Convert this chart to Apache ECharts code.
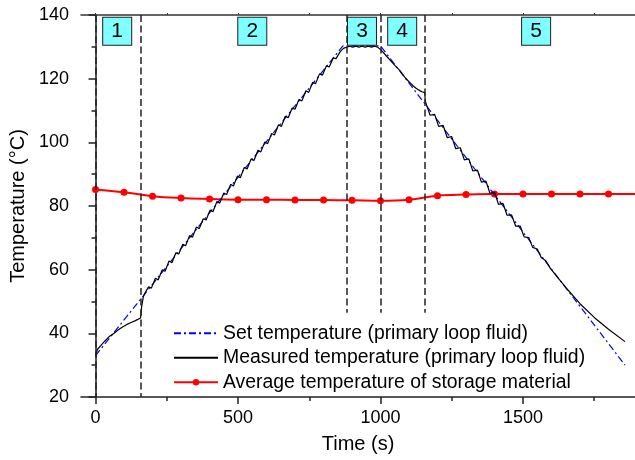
<!DOCTYPE html>
<html><head><meta charset="utf-8">
<script src="https://cdn.jsdelivr.net/npm/echarts@6/dist/echarts.min.js"></script>
<style>html,body{margin:0;padding:0;background:#fff}#c{width:635px;height:460px}</style>
</head><body><div id="c"></div>
<script>
const xMajorTicks = [0, 500, 1000, 1500];
const xMinorTicks = [250, 750, 1250, 1750];
const xTopTicks = [0, 250, 500, 750, 1000, 1250, 1500, 1750];
const seriesNames = ['Set temperature (primary loop fluid)', 'Measured temperature (primary loop fluid)', 'Average temperature of storage material'];
const setTemp = [[0, 33], [868, 130.3], [1000, 130.3], [1858, 30]];
const measuredTemp = [
  [0,32.9],[7,35.0],[12,34.5],[20,36.3],[25,35.9],[33,37.6],[38,37.3],[47,38.9],[53,38.7],[65,40.0],[80,41.1],[95,42.0],[110,42.8],[125,43.4],[140,44.0],[158,44.8],[162,48.5],[168,51.6],[173,52.6],[178,52.5],
  [186,54.6],[196,54.2],[210,57.3],[220,56.8],[234,60.0],[244,59.5],[258,62.7],[268,62.2],[282,65.3],[292,64.9],[306,68.0],[316,67.5],[330,70.7],[340,70.2],[354,73.4],[364,72.9],[378,76.0],[388,75.6],[402,78.7],[412,78.2],[426,81.4],[436,80.9],[450,84.1],[460,83.6],[474,86.8],[484,86.3],[498,89.4],[508,88.9],[522,92.1],[532,91.6],[546,94.8],[556,94.3],[570,97.5],[580,97.0],[594,100.1],[604,99.6],[618,102.8],[628,102.3],[642,105.5],[652,105.0],[666,108.2],[676,107.7],[690,110.8],[700,110.4],[714,113.5],[724,113.0],[738,116.2],[748,115.7],[762,118.9],[772,118.4],[786,121.5],[796,121.1],[810,124.0],[820,123.7],[834,126.5],[844,126.3],[858,128.4],[870,129.5],[880,129.85],
  [892,130.2],[902,129.9],[914,130.2],[924,129.9],[936,130.2],[946,129.9],[958,130.2],[968,129.9],[980,130.2],[990,129.9],[997,130.0],
  [1004,128.8],[1010,129.0],[1020,127.2],[1026,127.5],[1036,125.6],[1042,125.9],[1052,124.0],[1058,124.3],[1068,122.5],[1074,122.7],[1085,120.5],[1095,119.5],[1105,118.6],[1115,117.7],[1125,117.0],[1135,116.4],[1145,115.9],[1155,115.6],
  [1157,113.0],[1162,111.6],[1174,108.5],[1190,108.8],[1204,105.0],[1220,105.3],[1234,101.5],[1250,101.8],[1264,98.0],[1280,98.3],[1294,94.5],[1310,94.8],[1324,91.0],[1340,91.3],[1354,87.5],[1370,87.8],[1384,84.0],[1400,84.3],[1414,80.5],[1430,80.8],[1444,77.1],[1460,77.2],[1474,73.7],[1490,73.7],[1504,70.3],[1520,70.1],[1534,67.0],[1550,66.5],[1564,63.8],[1580,62.8],[1596,60.4],[1620,57.7],[1650,54.4],[1700,49.3],[1750,45.0],[1800,41.3],[1858,37.4]
];
const avgTime = [0,100,200,300,400,500,600,700,800,900,1000,1100,1200,1300,1400,1500,1600,1700,1800,1900];
const avgTemp = [85.2,84.3,83.1,82.5,82.2,82.0,81.95,81.9,81.85,81.8,81.65,82.0,83.25,83.6,83.75,83.8,83.8,83.8,83.8,83.8];
const phaseLabels = ['1', '2', '3', '4', '5'];
const phaseLabelTime = [76, 550, 935, 1076, 1546];
const phaseLabelTemp = 134.9;
const phaseLineTime = [0, 160, 880, 1000, 1155];
const phaseLineBottom = [20, 20, 46.5, 46.5, 46.5];

const FONT = 'Liberation Sans, Arial, sans-serif';
const axisCol = '#222';
const chart = echarts.init(document.getElementById('c'), null, {renderer: 'canvas'});
const xBase = {type: 'value', min: -51, max: 1893, splitLine: {show: false}};
chart.setOption({
  animation: false,
  backgroundColor: '#fff',
  grid: {left: 79, right: 0, top: 15, bottom: 63, containLabel: false},
  xAxis: [
    Object.assign({}, xBase, {
      position: 'bottom',
      axisLine: {show: true, lineStyle: {color: axisCol, width: 1.5}},
      axisTick: {show: true, customValues: xMajorTicks, length: 7, lineStyle: {color: axisCol, width: 1.5}},
      axisLabel: {show: true, customValues: xMajorTicks, formatter: v => String(v), fontSize: 18, color: '#000', fontFamily: FONT, margin: 12},
      name: 'Time (s)', nameLocation: 'middle', nameGap: 37,
      nameTextStyle: {fontSize: 20, color: '#000', fontFamily: FONT}
    }),
    Object.assign({}, xBase, {
      position: 'bottom',
      axisLine: {show: false},
      axisTick: {show: true, customValues: xMinorTicks, length: 4, lineStyle: {color: axisCol, width: 1.5}},
      axisLabel: {show: false}
    }),
    Object.assign({}, xBase, {
      position: 'top',
      axisLine: {show: true, lineStyle: {color: '#333', width: 1.5}},
      axisTick: {show: true, customValues: xTopTicks, length: 2, lineStyle: {color: '#333', width: 1}},
      axisLabel: {show: false}
    })
  ],
  yAxis: {
    type: 'value', min: 20, max: 140, interval: 20, position: 'left',
    splitLine: {show: false},
    axisLine: {show: true, lineStyle: {color: axisCol, width: 1.5}},
    axisTick: {show: true, length: 7, lineStyle: {color: axisCol, width: 1.5}},
    minorTick: {show: true, splitNumber: 2, length: 4, lineStyle: {color: axisCol, width: 1.5}},
    axisLabel: {fontSize: 18, color: '#000', fontFamily: FONT, margin: 12},
    name: 'Temperature (°C)', nameLocation: 'middle', nameGap: 53,
    nameTextStyle: {fontSize: 20, color: '#000', fontFamily: FONT}
  },
  legend: {
    data: [
      {name: seriesNames[0], itemStyle: {opacity: 0}},
      {name: seriesNames[1], itemStyle: {opacity: 0}},
      {name: seriesNames[2]}
    ],
    orient: 'vertical', left: 173, top: 321, padding: 0,
    itemWidth: 44, itemHeight: 8, itemGap: 0,
    textStyle: {fontSize: 19.4, lineHeight: 24.5, color: '#000', fontFamily: FONT}
  },
  series: [
    {
      name: seriesNames[2], type: 'line', data: avgTime.map((t, i) => [t, avgTemp[i]]),
      smooth: 0.4, symbol: 'circle', symbolSize: 7, z: 2,
      lineStyle: {color: '#ff0000', width: 2}, itemStyle: {color: '#ff0000'}
    },
    {
      name: seriesNames[0], type: 'line', data: setTemp, symbol: 'none', z: 3,
      lineStyle: {color: '#0000ff', width: 1.2, type: [7, 3, 2, 3]}, itemStyle: {color: '#0000ff'}
    },
    {
      name: seriesNames[1], type: 'line', data: measuredTemp, symbol: 'none', z: 4,
      lineStyle: {color: '#000', width: 1.2}, itemStyle: {color: '#000'},
      markLine: {
        silent: true, symbol: ['none', 'none'], animation: false,
        label: {show: false},
        lineStyle: {color: '#222', width: 1.5, type: [7, 3.5]},
        data: phaseLineTime.map((t, i) => [{coord: [t, 140]}, {coord: [t, phaseLineBottom[i]]}])
      }
    },
    {
      type: 'scatter', z: 6, silent: true,
      data: phaseLabels.map((l, i) => ({name: l, value: [phaseLabelTime[i], phaseLabelTemp]})),
      symbol: 'rect', symbolSize: [29, 28],
      itemStyle: {color: '#80ffff', borderColor: '#222', borderWidth: 1, opacity: 1},
      label: {show: true, position: 'inside', formatter: '{b}', fontSize: 21, color: '#000', fontFamily: FONT}
    }
  ]
});
</script></body></html>
